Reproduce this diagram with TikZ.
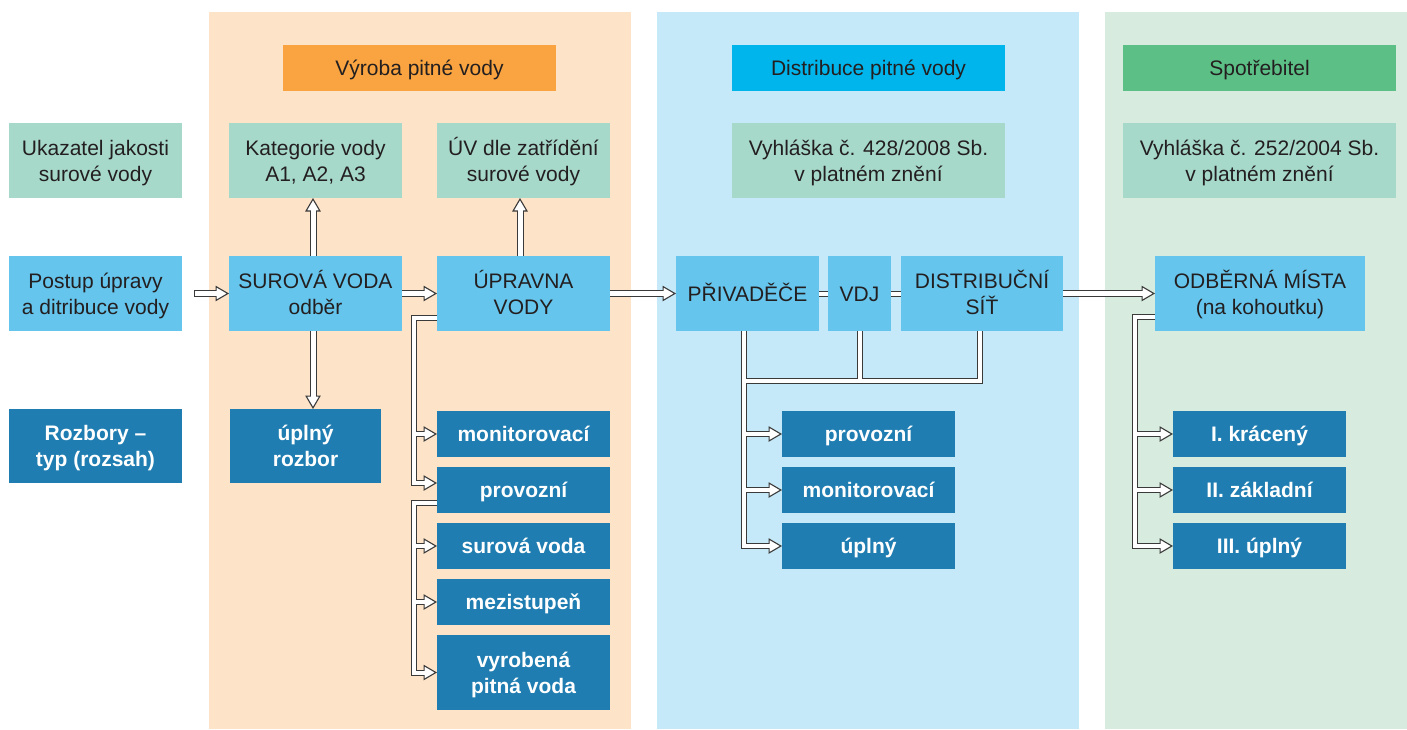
\documentclass[tikz,border=0pt]{standalone}
\usepackage{fontspec}
\setmainfont{Liberation Sans}
\usetikzlibrary{arrows.meta}
\definecolor{peach}{HTML}{FDE3C8}
\definecolor{skyp}{HTML}{C6E9F9}
\definecolor{mintp}{HTML}{D7ECDE}
\definecolor{hOrange}{HTML}{F9A440}
\definecolor{hCyan}{HTML}{00B5EB}
\definecolor{hGreen}{HTML}{5CC086}
\definecolor{tealc}{HTML}{A7D9CA}
\definecolor{lbluec}{HTML}{65C5EC}
\definecolor{dbluec}{HTML}{1F7DB1}
\definecolor{txtc}{HTML}{231F20}
\definecolor{pipec}{HTML}{3A3A3A}
\newcommand\twol[2]{%
  \setbox1=\hbox{#1}\setbox2=\hbox{#2}%
  \dimen0=\wd1 \ifdim\wd2>\dimen0 \dimen0=\wd2 \fi
  \setbox3=\hbox to\dimen0{\hss\box1\hss}%
  \setbox4=\hbox to\dimen0{\hss\box2\hss}%
  \ht3=15pt \dp3=0pt \ht4=0pt \dp4=0pt
  \vbox{\offinterlineskip\box3\vskip26pt\box4}}
\newcommand\onel[1]{\setbox0=\hbox{#1}\ht0=15pt \dp0=0pt \box0}
\tikzset{
  bx/.style={rectangle, inner sep=0pt, outer sep=0pt, draw=none, font=\fontsize{21}{26}\selectfont, text=txtc},
  hdr/.style={bx, minimum width=273pt, minimum height=46pt},
  tealb/.style={bx, fill=tealc},
  lblueb/.style={bx, fill=lbluec},
  dblueb/.style={bx, fill=dbluec, text=white, font=\fontsize{21}{26}\selectfont\bfseries},
  pipeMo/.style={draw=pipec, line width=7pt, line join=miter},
  pipeMi/.style={draw=white, line width=5pt, line join=miter},
  pipeBo/.style={draw=pipec, line width=6pt, line join=miter},
  pipeBi/.style={draw=white, line width=4pt, line join=miter},
  tipo/.style={-{Triangle[length=13.5pt,width=15.5pt,line width=1.1pt,fill=white]}},
  tipi/.style={shorten >=7.5pt},
  freeo/.style={},
  freei/.style={shorten <=1pt}
}
\newcommand\allpipes[1]{%
  % main pipes
  \draw[pipeM#1,tip#1,free#1] (a0) -- (sur.west);
  \draw[pipeM#1,tip#1] (sur.east) -- (upr.west);
  \draw[pipeM#1,tip#1] ([xshift=-2.5pt]sur.north) -- ([xshift=-2.5pt]kat.south);
  \draw[pipeM#1,tip#1] ([xshift=-2.5pt]sur.south) -- ([xshift=-2.5pt]sur.south |- upl.north);
  \draw[pipeM#1,tip#1] ([xshift=-3.5pt]upr.north) -- ([xshift=-3.5pt]uv.south);
  \draw[pipeM#1,tip#1] (upr.east) -- (priv.west);
  \draw[pipeM#1,tip#1] (dist.east) -- (odb.west);
  % links
  \draw[pipeB#1] (priv.east) -- (vdj.west);
  \draw[pipeB#1] (vdj.east) -- (dist.west);
  % production branches
  \draw[pipeB#1,tip#1] (upr.west |- u1) -- (u1) |- ([yshift=7pt]p1.west);
  \draw[pipeB#1,tip#1] (u1 |- m1.west) -- (m1.west);
  \draw[pipeB#1,tip#1] (p1.west |- u2) -- (u2) |- (vyr.west);
  \draw[pipeB#1,tip#1] (u2 |- s1.west) -- (s1.west);
  \draw[pipeB#1,tip#1] (u2 |- mz.west) -- (mz.west);
  % distribution branches
  \draw[pipeB#1,tip#1] (priv.south -| k0) -- (k0) |- (du.west);
  \draw[pipeB#1] (vdj.south) -- (vdj.south |- k0);
  \draw[pipeB#1] (dist.south -| k1) -- (k1) -- (k0);
  \draw[pipeB#1,tip#1] (k0 |- dp.west) -- (dp.west);
  \draw[pipeB#1,tip#1] (k0 |- dm.west) -- (dm.west);
  % consumer branches
  \draw[pipeB#1,tip#1] (odb.west |- c0) -- (c0) |- (c3.west);
  \draw[pipeB#1,tip#1] (c0 |- c1.west) -- (c1.west);
  \draw[pipeB#1,tip#1] (c0 |- c2.west) -- (c2.west);
}
\begin{document}
\begin{tikzpicture}[x=1pt,y=-1pt]
\useasboundingbox (0,0) rectangle (1407,729);
% panels
\fill[peach] (209,12) rectangle (631,729);
\fill[skyp] (657,12) rectangle (1079,729);
\fill[mintp] (1105,12) rectangle (1407,729);
% headers
\node[hdr, fill=hOrange] (h1) at (419.5,68) {\onel{Výroba pitné vody}};
\node[hdr, fill=hCyan] (h2) at (868.5,68) {\onel{Distribuce pitné vody}};
\node[hdr, fill=hGreen] (h3) at (1259.5,68) {\onel{Spotřebitel}};
% row 2
\node[tealb, minimum width=173pt, minimum height=75pt] (uk) at (95.5,160.5) {\twol{Ukazatel jakosti}{surové vody}};
\node[tealb, minimum width=173pt, minimum height=75pt] (kat) at (315.5,160.5) {\twol{Kategorie vody}{A1, A2, A3}};
\node[tealb, minimum width=173pt, minimum height=75pt] (uv) at (523.5,160.5) {\twol{ÚV dle zatřídění}{surové vody}};
\node[tealb, minimum width=273pt, minimum height=75pt] (vy1) at (868.5,160.5) {\twol{Vyhláška č. 428/2008 Sb.}{v platném znění}};
\node[tealb, minimum width=273pt, minimum height=75pt] (vy2) at (1259.5,160.5) {\twol{Vyhláška č. 252/2004 Sb.}{v platném znění}};
% row 3
\node[lblueb, minimum width=173pt, minimum height=75pt] (post) at (95.5,293.5) {\twol{Postup úpravy}{a ditribuce vody}};
\node[lblueb, minimum width=173pt, minimum height=75pt] (sur) at (315.5,293.5) {\twol{SUROVÁ VODA}{odběr}};
\node[lblueb, minimum width=173pt, minimum height=75pt] (upr) at (523.5,293.5) {\twol{ÚPRAVNA}{VODY}};
\node[lblueb, minimum width=143pt, minimum height=75pt] (priv) at (747.5,293.5) {\onel{PŘIVADĚČE}};
\node[lblueb, minimum width=63pt, minimum height=75pt] (vdj) at (859.5,293.5) {\onel{VDJ}};
\node[lblueb, minimum width=162pt, minimum height=75pt] (dist) at (982,293.5) {\twol{DISTRIBUČNÍ}{SÍŤ}};
\node[lblueb, minimum width=210pt, minimum height=75pt] (odb) at (1260,293.5) {\twol{ODBĚRNÁ MÍSTA}{(na kohoutku)}};
% row 4
\node[dblueb, minimum width=173pt, minimum height=74pt] (roz) at (95.5,446) {\twol{Rozbory –}{typ (rozsah)}};
\node[dblueb, minimum width=151pt, minimum height=74pt] (upl) at (305.5,446) {\twol{úplný}{rozbor}};
% production list
\node[dblueb, minimum width=173pt, minimum height=46pt] (m1) at (523.5,434) {\onel{monitorovací}};
\node[dblueb, minimum width=173pt, minimum height=46pt] (p1) at (523.5,490) {\onel{provozní}};
\node[dblueb, minimum width=173pt, minimum height=46pt] (s1) at (523.5,546) {\onel{surová voda}};
\node[dblueb, minimum width=173pt, minimum height=46pt] (mz) at (523.5,602) {\onel{mezistupeň}};
\node[dblueb, minimum width=173pt, minimum height=75pt] (vyr) at (523.5,672.5) {\twol{vyrobená}{pitná voda}};
% distribution list
\node[dblueb, minimum width=173pt, minimum height=46pt] (dp) at (868.5,434) {\onel{provozní}};
\node[dblueb, minimum width=173pt, minimum height=46pt] (dm) at (868.5,490) {\onel{monitorovací}};
\node[dblueb, minimum width=173pt, minimum height=46pt] (du) at (868.5,546) {\onel{úplný}};
% consumer list
\node[dblueb, minimum width=173pt, minimum height=46pt] (c1) at (1259.5,434) {\onel{I. krácený}};
\node[dblueb, minimum width=173pt, minimum height=46pt] (c2) at (1259.5,490) {\onel{II. základní}};
\node[dblueb, minimum width=173pt, minimum height=46pt] (c3) at (1259.5,546) {\onel{III. úplný}};
% junction coordinates
\coordinate (a0) at (194,293.5);
\coordinate (u1) at (414,317.5);
\coordinate (u2) at (414,503);
\coordinate (k0) at (743.5,381);
\coordinate (k1) at (979.5,381);
\coordinate (c0) at (1135,317);
% pipes: outlines first, then white cores
\allpipes{o}
\allpipes{i}
\end{tikzpicture}
\end{document}
